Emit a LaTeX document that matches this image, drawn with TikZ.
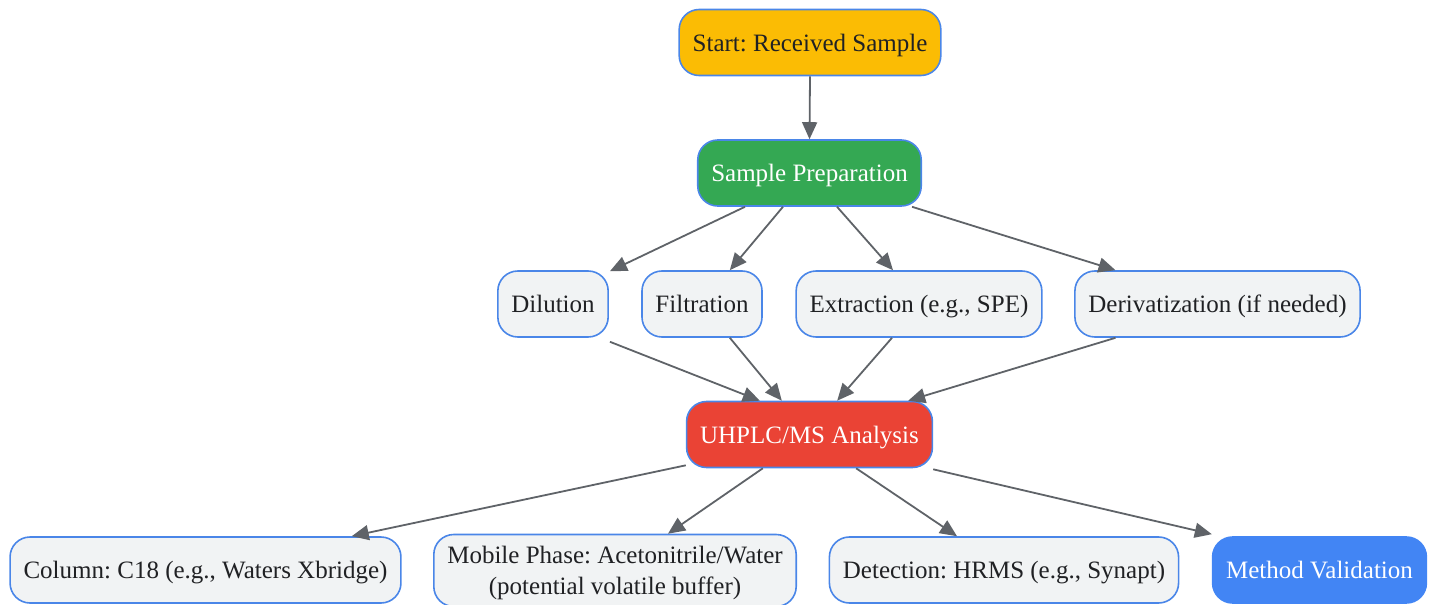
\documentclass[tikz,border=0pt]{standalone}
\usepackage{fontspec}
\setmainfont{Liberation Serif}
\frenchspacing
\usetikzlibrary{arrows.meta,calc}
\definecolor{bord}{HTML}{4A86E8}
\definecolor{gfill}{HTML}{F1F3F4}
\definecolor{txt}{HTML}{202124}
\definecolor{yel}{HTML}{FBBC04}
\definecolor{grn}{HTML}{34A853}
\definecolor{rd}{HTML}{EA4335}
\definecolor{blu}{HTML}{4285F4}
\definecolor{arr}{HTML}{5F6368}
\tikzset{
  box/.style={draw=bord, line width=1.6pt, rounded corners=20pt, fill=gfill, text=txt,
    font=\fontsize{25}{31}\selectfont\frenchspacing, inner xsep=13.5pt, inner ysep=0pt, minimum height=66pt,
    align=center, text depth=0pt},
  conn/.style={draw=arr, line width=1.8pt, -{Triangle[length=17pt,width=15pt]}}
}
\begin{document}
\begin{tikzpicture}[x=1pt,y=-1pt]
\useasboundingbox (0,0) rectangle (1436,605);
\node[box, fill=yel] (st) at (810,42.5) {Start: Received Sample};
\node[box, fill=grn, text=white] (sp) at (809.5,173) {Sample Preparation};
\node[box] (dil) at (553,304) {Dilution};
\node[box] (fil) at (702,304) {Filtration};
\node[box] (ext) at (919,304) {Extraction (e.g., SPE)};
\node[box] (der) at (1217.5,304) {Derivatization (if needed)};
\node[box, fill=rd, text=white] (uh) at (809.5,434.5) {UHPLC/MS Analysis};
\node[box] (col) at (205.5,570) {Column: C18 (e.g., Waters Xbridge)};
\node[box, minimum height=72pt] (mob) at (615,570.5) {Mobile Phase: Acetonitrile/Water\\(potential volatile buffer)};
\node[box] (det) at (1004,570) {Detection: HRMS (e.g., Synapt)};
\node[box, fill=blu, draw=blu, text=white] (mv) at (1319.5,570) {Method Validation};

\draw[conn] (st.south) -- (sp.north);
\draw[conn] ([xshift=48pt]sp.south west) -- ([xshift=1pt,yshift=-1pt]dil.north east);
\draw[conn] ([xshift=86pt]sp.south west) -- ([xshift=-33pt]fil.north east);
\draw[conn] ([xshift=-85pt]sp.south east) -- ([xshift=-26pt]ext.north);
\draw[conn] ([xshift=-10pt]sp.south east) -- ([xshift=-102pt]der.north);
\draw[conn] ([xshift=1pt,yshift=-4pt]dil.south east) -- ([xshift=74pt]uh.north west);
\draw[conn] ([xshift=-33pt]fil.south east) -- ([xshift=96pt]uh.north west);
\draw[conn] ([xshift=-27pt]ext.south) -- ([xshift=-96pt]uh.north east);
\draw[conn] ([xshift=-102pt]der.south) -- ([xshift=-25pt]uh.north east);
\draw[conn] ([yshift=3pt]uh.south west) -- ([xshift=-50pt]col.north east);
\draw[conn] ([xshift=77pt]uh.south west) -- ([xshift=53pt]mob.north);
\draw[conn] ([xshift=-77pt]uh.south east) -- ([xshift=-47pt]det.north);
\draw[conn] ([yshift=-1pt]uh.south east) -- ([xshift=0pt,yshift=2pt]mv.north west);
\end{tikzpicture}
\end{document}
